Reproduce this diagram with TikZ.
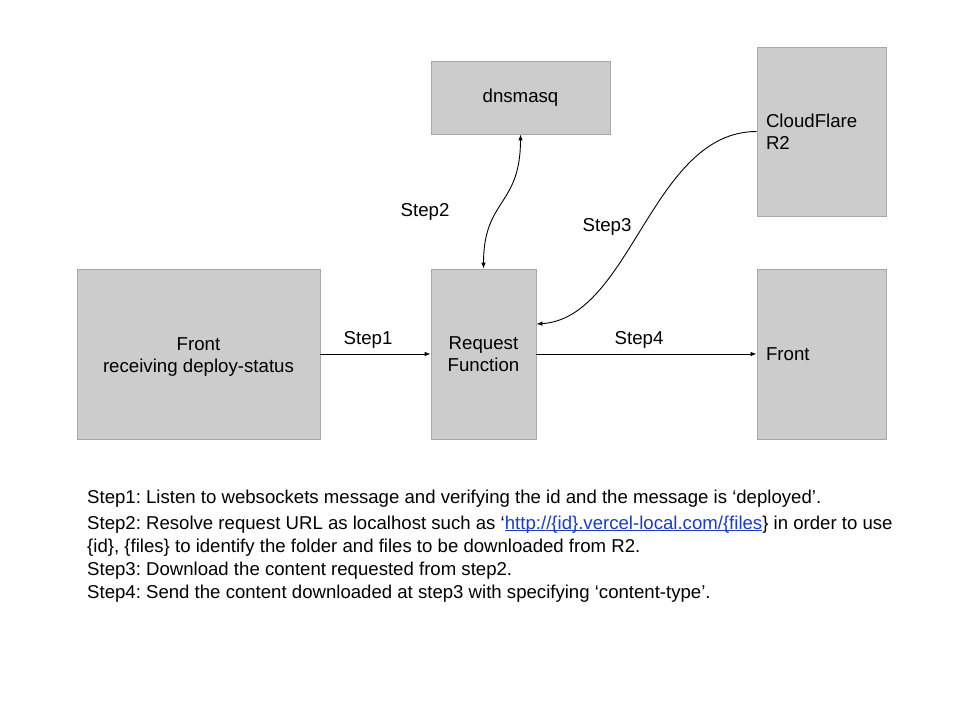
\documentclass[tikz,border=0pt]{standalone}
\usepackage{fontspec}
\setmainfont{Liberation Sans}
\usetikzlibrary{arrows.meta}
\definecolor{boxfill}{HTML}{CCCCCC}
\definecolor{boxline}{HTML}{A8A8A8}
\definecolor{linkblue}{HTML}{1A3CC8}
\newcommand\myuline[1]{\setbox0\hbox{#1}\rlap{\rule[-2.2pt]{\wd0}{0.9pt}}\box0}
\frenchspacing
\begin{document}
\begin{tikzpicture}[x=1pt,y=-1pt,
  box/.style={draw=boxline,fill=boxfill,line width=0.8pt,inner sep=0pt,inner xsep=9pt,
    font=\fontsize{18.67}{22}\selectfont},
  lbl/.style={font=\fontsize{18.67}{22}\selectfont,inner sep=0pt},
  desc/.style={font=\fontsize{18.6}{23}\selectfont,inner sep=0pt,anchor=base west},
  conn/.style={line width=0.9pt,-{Latex[length=6pt,width=4.5pt]}},
  conn2/.style={line width=0.9pt,{Latex[length=6pt,width=4.5pt]}-{Latex[length=6pt,width=4.5pt]}}]
\useasboundingbox (0,0) rectangle (960,720);
\fill[white] (0,0) rectangle (960,720);

\node[box,minimum width=243pt,minimum height=170pt,align=center] (front) at (198.5,354) {\vphantom{X}\\[-16pt]Front\\receiving deploy-status};
\node[box,minimum width=105pt,minimum height=170pt,align=center] (req) at (483.5,354) {Request\\Function};
\node[box,minimum width=179pt,minimum height=73pt,align=center] (dns) at (520.5,97.5) {dnsmasq};
\node[box,minimum width=129pt,minimum height=169pt,text width=111pt,align=left] (cf) at (821.5,131.5) {CloudFlare\\R2};
\node[box,minimum width=129pt,minimum height=170pt,text width=111pt,align=left] (front2) at (821.5,354) {Front};

\draw[conn] (front.east) -- (req.west);
\draw[conn] (req.east) -- (front2.west);
\draw[conn2] (dns.south) .. controls +(0,72) and +(0,-70) .. (req.north);
\draw[conn] (cf.west) .. controls +(-105,0) and +(95,-6) .. ([yshift=30pt]req.east);

\node[lbl] (s1) at (368,340) {Step1};
\node[lbl] (s4) at (639,340) {Step4};
\node[lbl] (s2) at (425,212) {Step2};
\node[lbl] (s3) at (607,227) {Step3};

\node[desc] (d1) at (87,503) {Step1: Listen to websockets message and verifying the id and the message is ‘deployed’.};
\node[desc] (d2) at (87,529) {Step2: Resolve request URL as localhost such as ‘{\color{linkblue}\myuline{http://\{id\}.vercel-local.com/\{files}}\} in order to use};
\node[desc] (d3) at (87,552) {\{id\}, \{files\} to identify the folder and files to be downloaded from R2.};
\node[desc] (d4) at (87,575) {Step3: Download the content requested from step2.};
\node[desc] (d5) at (87,598) {Step4: Send the content downloaded at step3 with specifying ‘content-type’.};
\end{tikzpicture}
\end{document}
